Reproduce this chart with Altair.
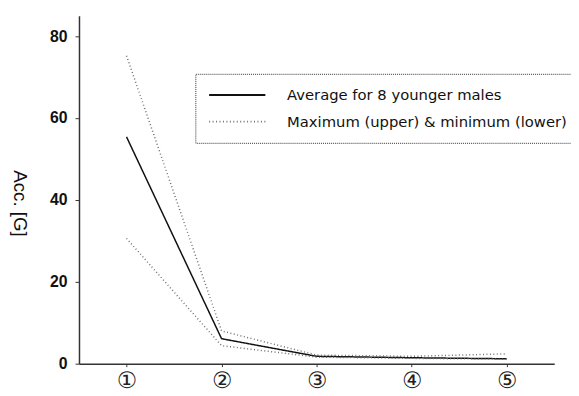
import altair as alt
import pandas as pd

positions = [1, 2, 3, 4, 5]
tick_labels = ["①", "②", "③", "④", "⑤"]
average = [55.4, 6.1, 1.8, 1.45, 1.2]
maximum = [75.2, 8.0, 2.1, 1.8, 2.4]
minimum = [30.6, 4.4, 1.6, 1.3, 1.1]

grp_avg = "Average for 8 younger males"
grp_rng = "Maximum (upper) & minimum (lower)"

rows = []
for name, vals, grp in [("avg", average, grp_avg), ("max", maximum, grp_rng), ("min", minimum, grp_rng)]:
    for p, v in zip(positions, vals):
        rows.append({"pos": p, "val": v, "series": name, "grp": grp})
df = pd.DataFrame(rows)

label_expr = "[" + ",".join("'" + t + "'" for t in tick_labels) + "][datum.value - 1]"

chart = alt.Chart(df).mark_line(strokeWidth=1.5).encode(
    x=alt.X("pos:Q", scale=alt.Scale(domain=[0.5, 5.5], nice=False, zero=False),
            axis=alt.Axis(values=positions, labelExpr=label_expr, title=None, grid=False,
                          labelFont="DejaVu Sans", labelFontSize=23, labelColor="#222",
                          tickSize=3, labelPadding=3, domainColor="#333", tickColor="#333",
                          domainWidth=1.5)),
    y=alt.Y("val:Q", scale=alt.Scale(domain=[0, 85], nice=False),
            axis=alt.Axis(values=[0, 20, 40, 60, 80], title="Acc. [G]", grid=False,
                          labelFont="Liberation Sans", labelFontSize=16, labelFontWeight="bold",
                          labelColor="#111", tickSize=4, labelPadding=8,
                          domainColor="#333", tickColor="#333", domainWidth=1.5,
                          titleFont="Liberation Sans", titleFontSize=19, titleFontWeight="normal",
                          titleColor="#111", titleAngle=90, titleX=-60, titleY=190,
                          titleAlign="center", titleBaseline="middle")),
    color=alt.Color("grp:N", scale=alt.Scale(domain=[grp_avg, grp_rng], range=["#111111", "#6f6f6f"]),
                    legend=alt.Legend(title=None, orient="none", legendX=118, legendY=59,
                                      labelFont="DejaVu Sans", labelFontSize=15, labelColor="#111",
                                      symbolType="M-3.8,0H3.8", symbolSize=225, symbolStrokeWidth=1.8,
                                      symbolOffset=21, labelOffset=42, rowPadding=10, padding=13,
                                      strokeColor="#333", labelLimit=400)),
    strokeDash=alt.StrokeDash("grp:N", scale=alt.Scale(domain=[grp_avg, grp_rng], range=[[1, 0], [1, 2.5]]),
                              legend=None),
    detail="series:N",
).properties(
    width=482, height=353,
    autosize=alt.AutoSizeParams(type="none"),
    padding={"left": 72, "top": 5, "right": 17, "bottom": 28},
).configure_view(stroke=None).configure_legend(strokeDash=[1, 1])

chart.save("out.html", embed_options={"renderer": "svg", "actions": False})
